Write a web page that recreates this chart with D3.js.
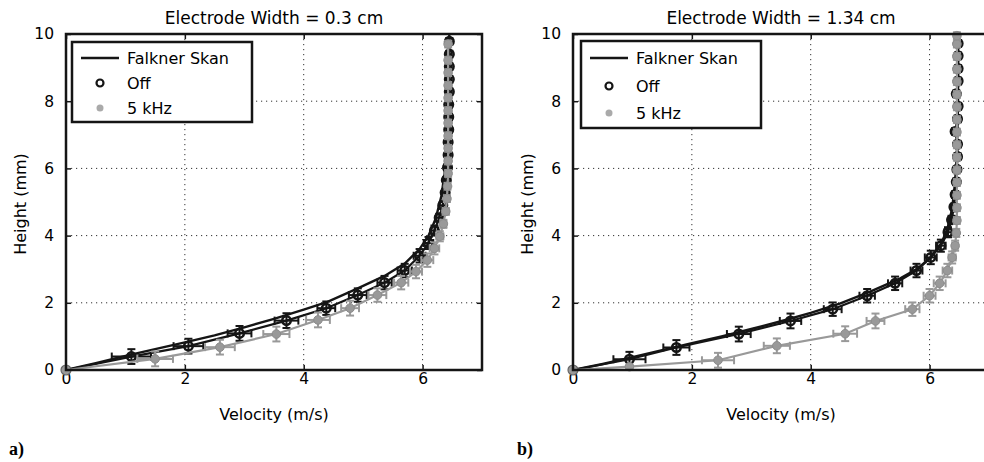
<!DOCTYPE html>
<html>
<head>
<meta charset="utf-8">
<script src="https://cdn.jsdelivr.net/npm/d3@7"></script>
<style>
  body { margin: 0; background: #fff; }
  text { font-family: "DejaVu Sans", "Liberation Sans", sans-serif; fill: #000; }
</style>
</head>
<body>
<div id="chart"></div>
<script>
// tick values
const xTicks = [0, 2, 4, 6];
const yTicks = [0, 2, 4, 6, 8, 10];

// ---- panel a) electrode width 0.3 cm ----
const fsA_v = [0, 0.5, 1.0, 1.5, 2.0, 2.5, 3.0, 3.5, 4.0, 4.4, 4.9, 5.36, 5.7, 5.95, 6.1, 6.22, 6.32, 6.38, 6.42, 6.44, 6.45];
const fsA_h = [0, 0.2, 0.42, 0.62, 0.82, 1.03, 1.27, 1.52, 1.8, 2.03, 2.42, 2.8, 3.17, 3.6, 4.0, 4.5, 5.2, 6.0, 7.0, 8.5, 10];

const offA_v  = [0, 1.10, 2.06, 2.92, 3.71, 4.38, 4.91, 5.36, 5.70, 5.95, 6.10, 6.20, 6.28, 6.34, 6.38, 6.40, 6.42, 6.43, 6.43, 6.44, 6.44, 6.44, 6.45, 6.45, 6.45, 6.45, 6.45];
const offA_h  = [0, 0.40, 0.71, 1.09, 1.47, 1.84, 2.23, 2.60, 2.96, 3.40, 3.78, 4.15, 4.53, 4.90, 5.28, 5.65, 6.03, 6.40, 6.78, 7.15, 7.53, 7.90, 8.28, 8.65, 9.03, 9.40, 9.78];
const offA_ex = [0, 0.33, 0.25, 0.2, 0.2, 0.15, 0.15, 0.12, 0.12, 0.1, 0.08, 0.06, 0.05, 0.05, 0.04, 0.04, 0.04, 0.04, 0.04, 0.04, 0.04, 0.04, 0.04, 0.04, 0.04, 0.04, 0.04];
const offA_ey = [0, 0.22, 0.22, 0.22, 0.22, 0.2, 0.2, 0.2, 0.2, 0.2, 0.18, 0.15, 0.12, 0.1, 0.1, 0.1, 0.1, 0.1, 0.1, 0.1, 0.1, 0.1, 0.1, 0.1, 0.1, 0.1, 0.1];

const khzA_v  = [0, 1.50, 2.59, 3.54, 4.24, 4.78, 5.24, 5.64, 5.89, 6.08, 6.20, 6.29, 6.35, 6.39, 6.41, 6.42, 6.43, 6.43, 6.43, 6.43, 6.43, 6.43, 6.43, 6.43, 6.43, 6.43, 6.43];
const khzA_h  = [0, 0.33, 0.68, 1.07, 1.49, 1.84, 2.23, 2.60, 2.93, 3.27, 3.62, 3.98, 4.35, 4.72, 5.10, 5.47, 5.85, 6.22, 6.60, 6.97, 7.35, 7.72, 8.10, 8.47, 8.85, 9.22, 9.70];
const khzA_ex = [0, 0.3, 0.25, 0.22, 0.2, 0.15, 0.15, 0.12, 0.1, 0.1, 0.08, 0.06, 0.05, 0.05, 0.04, 0.04, 0.04, 0.04, 0.04, 0.04, 0.04, 0.04, 0.04, 0.04, 0.04, 0.04, 0.04];
const khzA_ey = [0, 0.22, 0.22, 0.22, 0.22, 0.22, 0.2, 0.2, 0.2, 0.2, 0.18, 0.15, 0.12, 0.1, 0.1, 0.1, 0.1, 0.1, 0.1, 0.1, 0.1, 0.1, 0.1, 0.1, 0.1, 0.1, 0.1];

// ---- panel b) electrode width 1.34 cm ----
const fsB_v = [0, 0.5, 1.0, 1.5, 2.0, 2.5, 3.0, 3.5, 4.0, 4.5, 5.0, 5.5, 5.8, 6.0, 6.2, 6.3, 6.38, 6.43, 6.46, 6.48, 6.48];
const fsB_h = [0, 0.18, 0.38, 0.59, 0.8, 1.0, 1.22, 1.45, 1.7, 1.98, 2.33, 2.72, 3.02, 3.32, 3.78, 4.2, 4.8, 5.6, 6.5, 8.0, 10];

const offB_v  = [0, 0.95, 1.74, 2.79, 3.66, 4.37, 4.95, 5.42, 5.78, 6.02, 6.19, 6.31, 6.37, 6.41, 6.43, 6.45, 6.46, 6.47, 6.47, 6.43, 6.47, 6.48, 6.45, 6.48, 6.48, 6.48, 6.48];
const offB_h  = [0, 0.32, 0.67, 1.07, 1.46, 1.81, 2.21, 2.58, 2.96, 3.35, 3.70, 4.10, 4.47, 4.85, 5.22, 5.60, 5.97, 6.35, 6.72, 7.10, 7.47, 7.85, 8.22, 8.60, 8.97, 9.35, 9.72];
const offB_ex = [0, 0.27, 0.22, 0.2, 0.18, 0.15, 0.13, 0.12, 0.1, 0.1, 0.08, 0.06, 0.05, 0.05, 0.04, 0.04, 0.04, 0.04, 0.04, 0.04, 0.04, 0.04, 0.04, 0.04, 0.04, 0.04, 0.04];
const offB_ey = [0, 0.22, 0.22, 0.22, 0.22, 0.2, 0.2, 0.2, 0.2, 0.2, 0.18, 0.15, 0.12, 0.1, 0.1, 0.1, 0.1, 0.1, 0.1, 0.1, 0.1, 0.1, 0.1, 0.1, 0.1, 0.1, 0.1];

const khzB_v  = [0, 0.95, 2.44, 3.43, 4.58, 5.09, 5.71, 6.00, 6.17, 6.30, 6.38, 6.43, 6.45, 6.46, 6.46, 6.46, 6.46, 6.46, 6.46, 6.46, 6.46, 6.46, 6.46, 6.46, 6.46, 6.46, 6.46, 6.46, 6.46];
const khzB_h  = [0, 0.10, 0.29, 0.72, 1.08, 1.46, 1.81, 2.21, 2.58, 2.96, 3.35, 3.70, 4.08, 4.45, 4.83, 5.20, 5.58, 5.95, 6.33, 6.70, 7.08, 7.45, 7.83, 8.20, 8.58, 8.95, 9.33, 9.70, 9.95];
const khzB_ex = [0, 0, 0.27, 0.22, 0.2, 0.15, 0.12, 0.1, 0.1, 0.08, 0.06, 0.05, 0.04, 0.04, 0.04, 0.04, 0.04, 0.04, 0.04, 0.04, 0.04, 0.04, 0.04, 0.04, 0.04, 0.04, 0.04, 0.04, 0.04];
const khzB_ey = [0, 0, 0.22, 0.22, 0.22, 0.22, 0.2, 0.2, 0.2, 0.2, 0.18, 0.15, 0.12, 0.1, 0.1, 0.1, 0.1, 0.1, 0.1, 0.1, 0.1, 0.1, 0.1, 0.1, 0.1, 0.1, 0.1, 0.1, 0.1];

const legendLabels = ["Falkner Skan", "Off", "5 kHz"];

function pts(v, h, ex, ey) {
  return v.map((d, i) => ({v: d, h: h[i], ex: ex ? ex[i] : 0, ey: ey ? ey[i] : 0}));
}

const panels = [
  {title: "Electrode Width = 0.3 cm", tag: "a)", left: 66, tagX: 9,
   fs: pts(fsA_v, fsA_h), off: pts(offA_v, offA_h, offA_ex, offA_ey), khz: pts(khzA_v, khzA_h, khzA_ex, khzA_ey),
   leg: {x: 6, y: 8, w: 180, h: 80, rows: [16, 41, 66]}},
  {title: "Electrode Width = 1.34 cm", tag: "b)", left: 573, tagX: 517,
   fs: pts(fsB_v, fsB_h), off: pts(offB_v, offB_h, offB_ex, offB_ey), khz: pts(khzB_v, khzB_h, khzB_ex, khzB_ey),
   leg: {x: 8, y: 7, w: 180, h: 87, rows: [17, 45, 72]}}
];

const W = 984, H = 462;
const plotTop = 34, pw = 416, ph = 336;
const BLACK = "#151515", GRAY = "#999999";

const svg = d3.select("#chart").append("svg")
  .attr("width", W).attr("height", H);
svg.append("rect").attr("width", W).attr("height", H).attr("fill", "#fff");

const x = d3.scaleLinear().domain([0, 7]).range([0, pw]);
const y = d3.scaleLinear().domain([0, 10]).range([ph, 0]);
const fmt = d3.format("d");

panels.forEach(function(p) {
  const g = svg.append("g").attr("transform", `translate(${p.left},${plotTop})`);

  // dotted grid
  g.selectAll(".gx").data(xTicks.filter(t => t > 0)).enter().append("line")
    .attr("x1", d => x(d)).attr("x2", d => x(d)).attr("y1", 0).attr("y2", ph)
    .attr("stroke", "#333").attr("stroke-width", 1).attr("stroke-dasharray", "1.2,3.8");
  g.selectAll(".gy").data(yTicks.filter(t => t > 0 && t < 10)).enter().append("line")
    .attr("y1", d => y(d)).attr("y2", d => y(d)).attr("x1", 0).attr("x2", pw)
    .attr("stroke", "#333").attr("stroke-width", 1).attr("stroke-dasharray", "1.2,3.8");

  // axes with inward ticks
  const ax = g.append("g").attr("transform", `translate(0,${ph})`)
    .call(d3.axisBottom(x).tickValues(xTicks).tickFormat(fmt).tickSizeInner(-5).tickSizeOuter(0).tickPadding(3));
  const ay = g.append("g")
    .call(d3.axisLeft(y).tickValues(yTicks).tickFormat(fmt).tickSizeInner(-5).tickSizeOuter(0).tickPadding(12));
  g.append("g").call(d3.axisTop(x).tickValues(xTicks).tickSizeInner(-5).tickSizeOuter(0).tickFormat(""));
  g.append("g").attr("transform", `translate(${pw},0)`)
    .call(d3.axisRight(y).tickValues(yTicks).tickSizeInner(-5).tickSizeOuter(0).tickFormat(""));
  g.selectAll(".domain").remove();
  g.selectAll(".tick line").attr("stroke", BLACK).attr("stroke-width", 1.5);
  [ax, ay].forEach(a => a.selectAll("text")
    .style("font-family", '"DejaVu Sans", sans-serif').style("font-size", "15.5px").attr("fill", "#000"));

  // Falkner Skan curve
  const line = d3.line().x(d => x(d.v)).y(d => y(d.h));
  g.append("path").datum(p.fs).attr("d", line)
    .attr("fill", "none").attr("stroke", BLACK).attr("stroke-width", 2.4);

  // measured series
  function series(data, color, filled) {
    g.append("path").datum(data).attr("d", line)
      .attr("fill", "none").attr("stroke", color).attr("stroke-width", 2.2);
    const eb = g.append("g").attr("stroke", color).attr("stroke-width", 2);
    const c = 4;
    data.filter(d => d.ey > 0).forEach(function(d) {
      const cx = x(d.v), cy = y(d.h);
      eb.append("line").attr("x1", cx).attr("x2", cx).attr("y1", y(d.h - d.ey)).attr("y2", y(d.h + d.ey));
      eb.append("line").attr("x1", cx - c).attr("x2", cx + c).attr("y1", y(d.h - d.ey)).attr("y2", y(d.h - d.ey));
      eb.append("line").attr("x1", cx - c).attr("x2", cx + c).attr("y1", y(d.h + d.ey)).attr("y2", y(d.h + d.ey));
      eb.append("line").attr("x1", x(d.v - d.ex)).attr("x2", x(d.v + d.ex)).attr("y1", cy).attr("y2", cy);
      eb.append("line").attr("x1", x(d.v - d.ex)).attr("x2", x(d.v - d.ex)).attr("y1", cy - c).attr("y2", cy + c);
      eb.append("line").attr("x1", x(d.v + d.ex)).attr("x2", x(d.v + d.ex)).attr("y1", cy - c).attr("y2", cy + c);
    });
    g.append("g").selectAll("circle").data(data.filter(d => d.h > 0)).enter().append("circle")
      .attr("cx", d => x(d.v)).attr("cy", d => y(d.h)).attr("r", 4.3)
      .attr("fill", filled ? color : "none")
      .attr("stroke", filled ? "#8c8c8c" : color).attr("stroke-width", filled ? 1 : 2.5);
  }
  series(p.off, BLACK, false);
  series(p.khz, GRAY, true);

  // origin marker
  g.append("circle").attr("cx", x(0)).attr("cy", y(0)).attr("r", 5)
    .attr("fill", GRAY).attr("stroke", "#666").attr("stroke-width", 1.2);

  // frame
  g.append("rect").attr("width", pw).attr("height", ph)
    .attr("fill", "none").attr("stroke", BLACK).attr("stroke-width", 2.5);

  // legend
  const L = p.leg;
  const lg = g.append("g").attr("transform", `translate(${L.x},${L.y})`);
  lg.append("rect").attr("width", L.w).attr("height", L.h)
    .attr("fill", "#fff").attr("stroke", BLACK).attr("stroke-width", 2.5);
  lg.append("line").attr("x1", 9).attr("x2", 47).attr("y1", L.rows[0]).attr("y2", L.rows[0])
    .attr("stroke", BLACK).attr("stroke-width", 2.4);
  lg.append("circle").attr("cx", 28).attr("cy", L.rows[1]).attr("r", 3.5)
    .attr("fill", "none").attr("stroke", BLACK).attr("stroke-width", 2.2);
  lg.append("circle").attr("cx", 28).attr("cy", L.rows[2]).attr("r", 3.5)
    .attr("fill", "#aaa");
  lg.selectAll("text").data(legendLabels).enter().append("text")
    .attr("x", 55).attr("y", (d, i) => L.rows[i]).attr("dy", "0.36em")
    .style("font-size", "16px").text(d => d);

  // titles and labels
  g.append("text").attr("x", pw / 2).attr("y", -10).attr("text-anchor", "middle")
    .style("font-size", "17px").text(p.title);
  g.append("text").attr("x", pw / 2).attr("y", ph + 50).attr("text-anchor", "middle")
    .style("font-size", "16px").text("Velocity (m/s)");
  g.append("text").attr("transform", `translate(-40,${ph / 2 + 2}) rotate(-90)`)
    .attr("text-anchor", "middle").style("font-size", "16px").text("Height (mm)");

  svg.append("text").attr("x", p.tagX).attr("y", 455)
    .style("font-family", '"Liberation Serif", "DejaVu Serif", serif')
    .style("font-weight", "bold").style("font-size", "18px").text(p.tag);
});
</script>
</body>
</html>
